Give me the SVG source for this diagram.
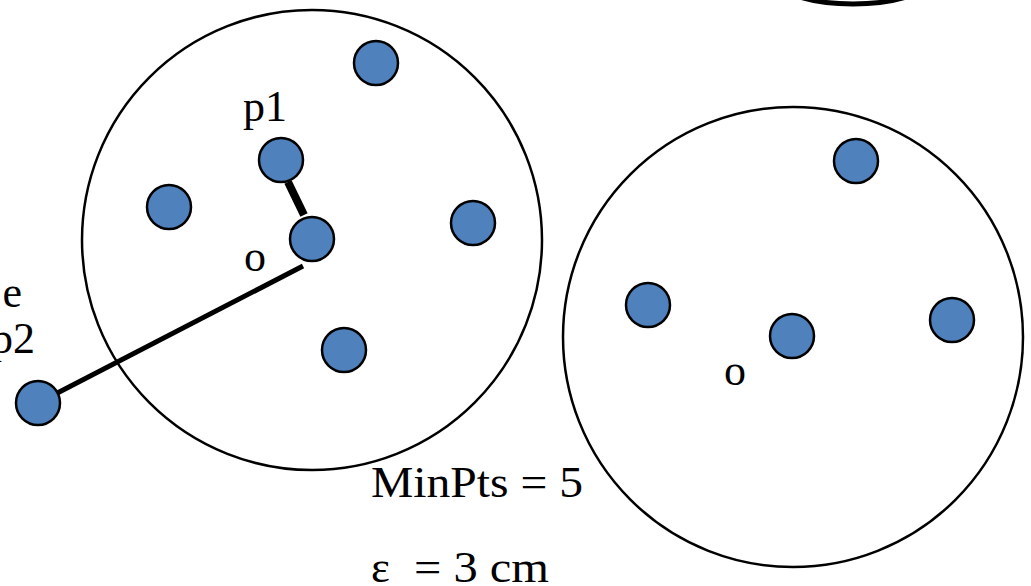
<svg xmlns="http://www.w3.org/2000/svg" width="1031" height="586" viewBox="0 0 1031 586">
<style>
.reg{fill:none;stroke:#000;stroke-width:2.5}
.pt{fill:#4F81BD;stroke:#000;stroke-width:2.5}
.lbl{font-family:"Liberation Serif","Times New Roman",serif;font-size:44px;fill:#000}
.big{font-size:45px}
.link{stroke:#000;fill:none}
</style>
<rect width="1031" height="586" fill="#fff"/>
<g id="regions">
<circle id="region-left" class="reg" cx="312" cy="240" r="230"/>
<circle id="region-right" class="reg" cx="793" cy="337" r="230"/>
<ellipse id="region-top" cx="853" cy="-22" rx="78" ry="26" fill="none" stroke="#000" stroke-width="5"/>
</g>
<g id="connectors">
<line class="link" x1="38" y1="403" x2="303" y2="266" stroke-width="5"/>
<line class="link" x1="288" y1="182" x2="304" y2="215" stroke-width="8"/>
</g>
<g id="node-a"><circle class="pt" cx="376" cy="63" r="22"/></g>
<g id="node-p1"><circle class="pt" cx="281" cy="160" r="22"/></g>
<g id="node-b"><circle class="pt" cx="169" cy="207" r="22"/></g>
<g id="node-o1"><circle class="pt" cx="312" cy="239" r="22"/></g>
<g id="node-c"><circle class="pt" cx="473" cy="223" r="22"/></g>
<g id="node-d"><circle class="pt" cx="344" cy="350" r="22"/></g>
<g id="node-p2"><circle class="pt" cx="38" cy="403" r="22"/></g>
<g id="node-e"><circle class="pt" cx="856" cy="161" r="22"/></g>
<g id="node-f"><circle class="pt" cx="648" cy="305" r="22"/></g>
<g id="node-o2"><circle class="pt" cx="792" cy="336" r="22"/></g>
<g id="node-g"><circle class="pt" cx="952" cy="320" r="22"/></g>
<g id="labels">
<text class="lbl" x="243" y="121" textLength="44" lengthAdjust="spacingAndGlyphs">p1</text>
<text class="lbl" x="244" y="271">o</text>
<text class="lbl" x="724" y="385">o</text>
<text class="lbl" x="22" y="307" text-anchor="end">e</text>
<text class="lbl" x="35" y="353" text-anchor="end">p2</text>
<text class="lbl big" x="371" y="497" textLength="212" lengthAdjust="spacingAndGlyphs">MinPts = 5</text>
<text class="lbl big" y="582"><tspan x="371">ε</tspan><tspan x="414" textLength="135" lengthAdjust="spacingAndGlyphs">= 3 cm</tspan></text>
</g>
</svg>
